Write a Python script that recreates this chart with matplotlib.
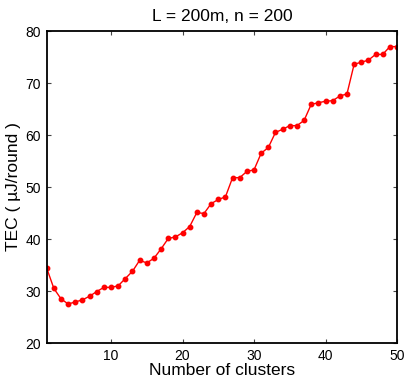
import matplotlib
matplotlib.use("Agg")
import matplotlib.pyplot as plt

plt.rcParams['font.family'] = ['Liberation Sans', 'DejaVu Sans']

clusters = list(range(1, 51))
tec = [34.4, 30.5, 28.5, 27.5, 27.9, 28.3, 29.0, 29.9, 30.7, 30.7,
       31.0, 32.4, 33.8, 35.9, 35.4, 36.3, 38.1, 40.1, 40.4, 41.2,
       42.4, 45.1, 44.9, 46.8, 47.6, 48.1, 51.8, 51.8, 53.0, 53.3,
       56.5, 57.6, 60.5, 61.1, 61.8, 61.8, 62.8, 65.9, 66.2, 66.5,
       66.6, 67.5, 67.9, 73.6, 74.0, 74.4, 75.5, 75.5, 77.0, 77.0]
x_ticks = [10, 20, 30, 40, 50]
y_ticks = [20, 30, 40, 50, 60, 70, 80]

fig = plt.figure(figsize=(4.04, 3.81), dpi=100)
ax = fig.add_axes([0.1156, 0.0997, 0.8671, 0.8189])

ax.plot(clusters, tec, color='red', linewidth=1.0, marker='o', markersize=3.2)

ax.set_xlim(1, 50)
ax.set_ylim(20, 80)
ax.set_xticks(x_ticks)
ax.set_yticks(y_ticks)
ax.tick_params(direction='in', length=3, width=0.8, top=True, right=True,
               labelsize=10, pad=4, color='#444444')
for spine in ax.spines.values():
    spine.set_linewidth(1.3)
    spine.set_color('black')

ax.set_title('L = 200m, n = 200', fontsize=12.5, pad=7)
ax.set_xlabel('Number of clusters', fontsize=12.5, labelpad=0)
ax.set_ylabel('TEC ( µJ/round )', fontsize=12.5, labelpad=3)

fig.savefig('out.png', dpi=100)
